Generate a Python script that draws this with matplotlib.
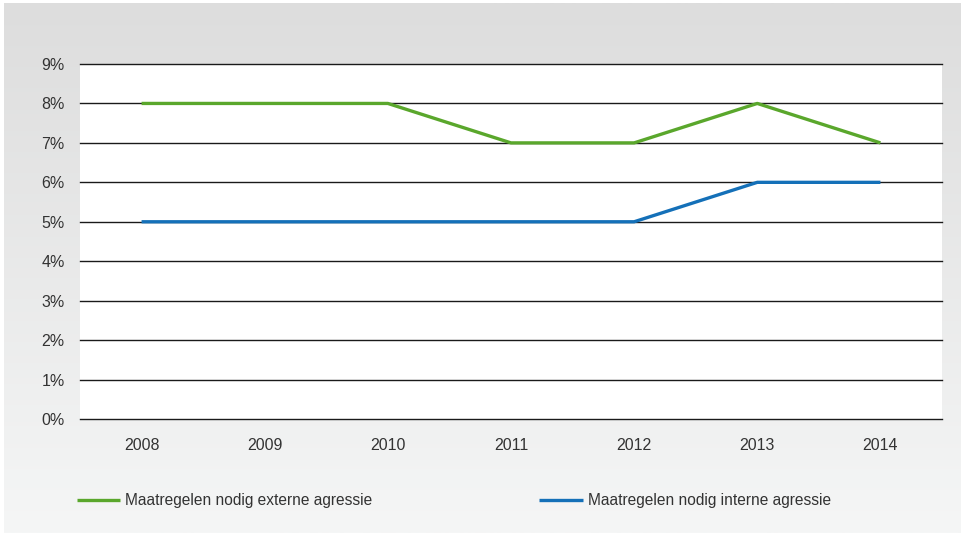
import numpy as np
import matplotlib
matplotlib.use('Agg')
import matplotlib.pyplot as plt

plt.rcParams['font.family'] = ['Liberation Sans', 'DejaVu Sans']

years = ['2008', '2009', '2010', '2011', '2012', '2013', '2014']
extern = [8, 8, 8, 7, 7, 8, 7]
intern = [5, 5, 5, 5, 5, 6, 6]
names = ['Maatregelen nodig externe agressie', 'Maatregelen nodig interne agressie']
green = '#5aa72c'
blue = '#1470b8'

fig = plt.figure(figsize=(9.62, 5.33), dpi=100)
fig.patch.set_facecolor('white')

# gradient background
bg = fig.add_axes([4/962, 0, 958/962, 530/533])
grad = np.linspace(0, 1, 256).reshape(-1, 1)
c_top = np.array([221, 221, 221]) / 255
c_bot = np.array([245, 246, 246]) / 255
img = c_top + grad[..., None] * (c_bot - c_top)
bg.imshow(img, aspect='auto', extent=[0, 1, 0, 1], origin='upper')
bg.axis('off')

ax = fig.add_axes([80/962, 1 - 419/533, 862/962, 355/533])
ax.set_facecolor('white')
x = np.arange(len(years))
ax.plot(x, extern, color=green, lw=2.4, label=names[0], solid_capstyle='butt')
ax.plot(x, intern, color=blue, lw=2.4, label=names[1], solid_capstyle='butt')

ax.set_xlim(-0.5, len(years) - 0.5)
ax.set_ylim(0, 9)
ax.set_yticks(range(10))
ax.set_yticklabels([f'{i}%' for i in range(10)])
ax.set_xticks(x)
ax.set_xticklabels(years)
ax.yaxis.grid(True, color='#1a1a1a', lw=1)
for gl in ax.get_ygridlines():
    gl.set_clip_on(False)
ax.set_axisbelow(True)
for s in ax.spines.values():
    s.set_visible(False)
ax.tick_params(length=0, labelsize=11.5, colors='#333333')
ax.tick_params(axis='x', pad=14)
ax.tick_params(axis='y', pad=11)

ax.legend(loc='center left', bbox_to_anchor=(-0.02, -0.23), ncol=2, frameon=False,
          fontsize=11.2, handlelength=2.8, handletextpad=0.3, columnspacing=10.75,
          labelcolor='#333333')

fig.savefig('out.png', dpi=100)
